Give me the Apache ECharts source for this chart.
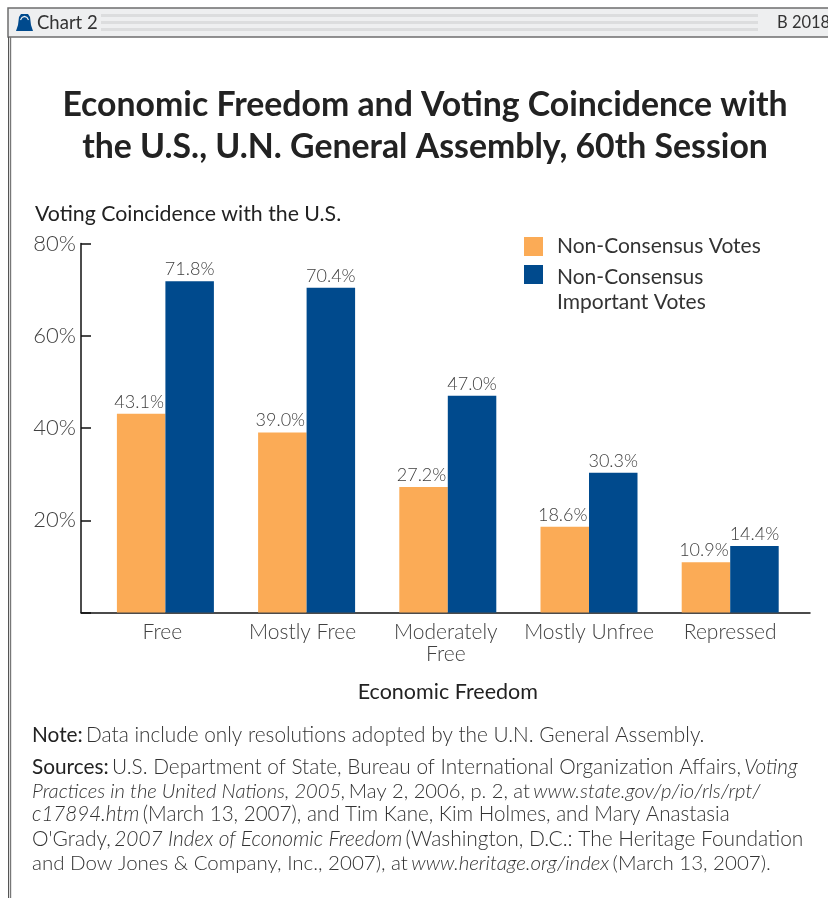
<!DOCTYPE html>
<html><head><meta charset="utf-8">
<style>html,body{margin:0;padding:0;background:#fff}#c{width:828px;height:898px}</style>
<script src="https://cdn.jsdelivr.net/npm/echarts@6/dist/echarts.min.js"></script>
</head><body><div id="c"></div>
<script>
const categories = ['Free','Mostly Free','Moderately\nFree','Mostly Unfree','Repressed'];
const nonConsensus = [43.1,39.0,27.2,18.6,10.9];
const nonConsensusImportant = [71.8,70.4,47.0,30.3,14.4];
const seriesNames = ['Non-Consensus Votes','Non-Consensus\nImportant Votes'];
const yTicks = [0,20,40,60,80];
const titleText = 'Economic Freedom and Voting Coincidence with\nthe U.S., U.N. General Assembly, 60th Session';
const noteTexts = [
 '{b|Note:} {n|Data include only resolutions adopted by the U.N. General Assembly.}',
 '{b|Sources:} {n|U.S. Department of State, Bureau of International Organization Affairs,} {i|Voting}',
 '{i|Practices in the United Nations, 2005,} {n|May 2, 2006, p. 2, at} {i|www.state.gov/p/io/rls/rpt/}',
 '{i|c17894.htm} {n|(March 13, 2007), and Tim Kane, Kim Holmes, and Mary Anastasia}',
 "{n|O'Grady,} {i|2007 Index of Economic Freedom} {n|(Washington, D.C.: The Heritage Foundation}",
 '{n|and Dow Jones & Company, Inc., 2007), at} {i|www.heritage.org/index} {n|(March 13, 2007).}'
];
const FONT='Lato';
const TXT='#404040';
const noteY=[735,767,791,814,839,863];
const noteSize=[20.8,20.8,20.2,20.6,20.9,20.5];
const catPadRight=[6,8,4,0,0];
const richFor=s=>({
 b:{fontFamily:FONT,fontSize:s,fontWeight:400,fill:'#222'},
 n:{fontFamily:FONT,fontSize:s,fontWeight:300,fill:'#333'},
 i:{fontFamily:FONT,fontSize:s,fontWeight:300,fontStyle:'italic',fill:'#333'}
});
const graphics=[
 {type:'rect',shape:{x:8,y:8,width:830,height:29},style:{fill:'#eeeff0',stroke:'#6e6e6e',lineWidth:1.5},z:0},
 {type:'rect',shape:{x:101,y:14,width:657,height:3},style:{fill:'#dcddde'}},
 {type:'rect',shape:{x:101,y:21,width:657,height:3},style:{fill:'#dcddde'}},
 {type:'rect',shape:{x:101,y:28,width:657,height:3},style:{fill:'#dcddde'}},
 {type:'rect',shape:{x:8,y:37,width:1.2,height:861},style:{fill:'#555'}},
 {type:'rect',shape:{x:10,y:37,width:1.2,height:861},style:{fill:'#777'}},
 {type:'polygon',shape:{points:[[16,31],[33,31],[31,25],[30,17],[28,14],[21,14],[19,17],[18,25]]},style:{fill:'#004a8d'}},
 {type:'polyline',shape:{points:[[20.5,20],[22,17.5],[24.5,16.5],[27,17.5],[28.5,20]]},style:{stroke:'#eeeff0',fill:null,lineWidth:1.2}},
 {type:'text',x:37,y:23,style:{text:'Chart 2',font:'400 18.5px '+FONT,fill:'#333',verticalAlign:'middle'}},
 {type:'text',x:777,y:23,style:{text:'B 2018',font:'400 16.5px '+FONT,fill:'#333',verticalAlign:'middle'}},
 ...noteTexts.map((t,i)=>({type:'text',x:32,y:noteY[i],style:{text:t,rich:richFor(noteSize[i]),verticalAlign:'middle'}}))
];
const legendText={fontFamily:FONT,fontSize:21,fontWeight:400,color:'#333'};
const option={
 animation:false,
 backgroundColor:'#fff',
 textStyle:{fontFamily:FONT},
 title:{text:titleText,left:420,top:79,textAlign:'center',textStyle:{fontFamily:FONT,fontSize:33.8,fontWeight:700,color:'#222',lineHeight:42}},
 legend:[
  {data:[seriesNames[0]],left:524,top:236,padding:0,itemWidth:19,itemHeight:19,icon:'rect',textStyle:{...legendText,padding:[0,0,0,9]}},
  {data:[seriesNames[1]],left:524,top:244.5,padding:0,itemWidth:19,itemHeight:19,icon:'rect',
   formatter:n=>'{s| }\n'+n.split('\n').map(p=>'{t|'+p+'}').join('\n'),
   textStyle:{...legendText,padding:[0,0,0,9],rich:{s:{...legendText,lineHeight:30,fontSize:10},t:{...legendText,lineHeight:25}}}}
 ],
 grid:[
  {left:81,top:243.5,width:729,height:369},
  {left:94.8,top:243.5,width:706,height:369}
 ],
 xAxis:[
  {type:'value',gridIndex:0,min:0,max:1,splitLine:{show:false},axisTick:{show:false},axisLabel:{show:false},axisLine:{show:true,onZero:false,lineStyle:{color:'#111',width:1.5}}},
  {type:'category',gridIndex:1,data:categories.map((c,i)=>({value:c,textStyle:{padding:[0,catPadRight[i],0,0]}})),axisLine:{show:false},axisTick:{show:false},
   name:'Economic Freedom',nameLocation:'middle',nameGap:69,nameTextStyle:{fontFamily:FONT,fontSize:21.5,fontWeight:400,color:'#222'},
   axisLabel:{fontFamily:FONT,fontSize:21,fontWeight:300,color:TXT,margin:9,lineHeight:22,interval:0}}
 ],
 yAxis:[
  {type:'value',gridIndex:0,min:yTicks[0],max:yTicks[yTicks.length-1],interval:20,splitLine:{show:false},
   axisLine:{show:true,onZero:false,lineStyle:{color:'#111',width:1.5}},
   axisTick:{show:true,inside:true,length:10,lineStyle:{color:'#111',width:1.5}},
   axisLabel:{fontFamily:FONT,fontSize:22,fontWeight:300,color:TXT,margin:5,formatter:v=>v===0?'':v+'%'},
   name:'Voting Coincidence with the U.S.',nameLocation:'end',nameGap:19,
   nameTextStyle:{fontFamily:FONT,fontSize:21.3,fontWeight:400,color:'#222',align:'left',padding:[0,0,0,-46]}},
  {type:'value',gridIndex:1,min:yTicks[0],max:yTicks[yTicks.length-1],show:false}
 ],
 series:[
  {name:seriesNames[0],type:'bar',xAxisIndex:1,yAxisIndex:1,data:nonConsensus,barWidth:48.5,barGap:0,itemStyle:{color:'#fbab56'},
   label:{show:true,position:'top',distance:3,offset:[-2,0],fontFamily:FONT,fontSize:18,fontWeight:300,color:TXT,formatter:p=>p.value.toFixed(1)+'%'}},
  {name:seriesNames[1],type:'bar',xAxisIndex:1,yAxisIndex:1,data:nonConsensusImportant,barWidth:48.5,barGap:0,itemStyle:{color:'#004a8d'},
   label:{show:true,position:'top',distance:3,fontFamily:FONT,fontSize:18,fontWeight:300,color:TXT,formatter:p=>p.value.toFixed(1)+'%'}}
 ],
 graphic:graphics
};
const chart=echarts.init(document.getElementById('c'),null,{renderer:'canvas',width:828,height:898});
chart.setOption(option);
</script></body></html>
